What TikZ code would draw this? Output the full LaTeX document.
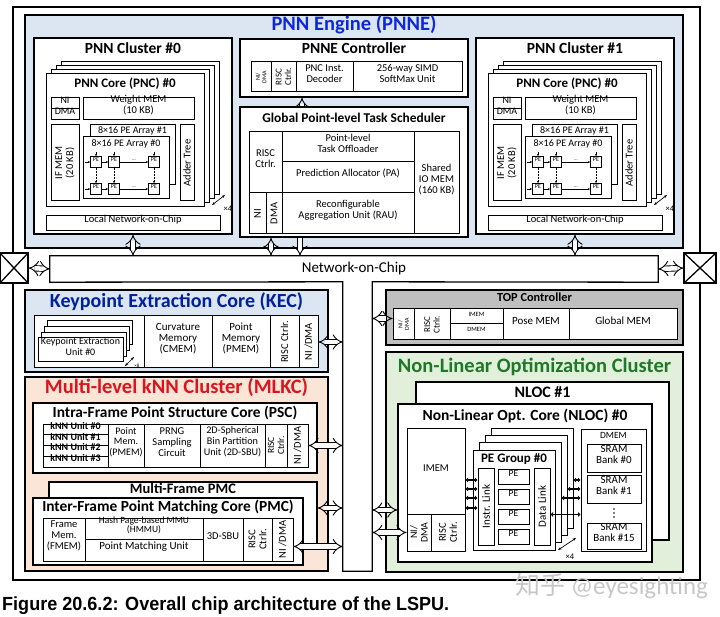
\documentclass[tikz,border=0pt]{standalone}
\usepackage{fontspec}
\setmainfont{Carlito}
\newfontfamily\capfont[FakeStretch=0.95]{Liberation Sans}
\newfontfamily\cjkfont{Noto Sans CJK SC}
\usepackage{tikz}
\usetikzlibrary{positioning,fit,arrows.meta,calc}

\definecolor{pnneblue}{RGB}{220,230,242}
\definecolor{titleblue}{RGB}{15,40,215}
\definecolor{kecblue}{RGB}{0,32,160}
\definecolor{mlkcpeach}{RGB}{251,229,214}
\definecolor{mlkcred}{RGB}{220,20,30}
\definecolor{nlogreen}{RGB}{226,239,218}
\definecolor{nlotitle}{RGB}{30,120,40}
\definecolor{topgray}{RGB}{191,191,191}

\newcommand{\fsz}[2]{\fontsize{#1}{#2}\selectfont}
% box from corner (#3,#4) to corner (#5,#6), pixel units, y downwards
\newcommand{\blk}[7][]{\node[blk,#1,fit={(#3,#4) (#5,#6)}] (#2) {#7};}

\tikzset{
  blk/.style={
      draw,
      fill=white,
      line width=1pt,
      inner sep=0pt,
      align=center,
      font=\fsz{10.5}{11},
  },
  frame/.style={line width=1.3pt},
  stackbox/.style={
      draw,
      fill=white,
      line width=1pt,
  },
  bigtitle/.style={font=\fsz{20.5}{22}\bfseries, inner sep=1pt},
  subtitle/.style={font=\fsz{15.5}{17}\bfseries, inner sep=1pt},
  coretitle/.style={font=\fsz{13}{14}\bfseries, inner sep=1pt},
  lbl/.style={font=\fsz{10.5}{11}, align=center, inner sep=0pt},
  smalllbl/.style={font=\fsz{9}{9.5}, align=center, inner sep=0pt},
  tinylbl/.style={font=\fsz{6}{6.5}, align=center, inner sep=0pt},
  dblarrow/.style={
      double,
      double distance=4.5pt,
      line width=0.9pt,
      {Implies}-{Implies},
  },
  onearrow/.style={
      double,
      double distance=4.5pt,
      line width=0.9pt,
      -{Implies},
  },
  bus/.style={
      line width=1.6pt,
      {Triangle[length=2.5pt,width=4.5pt]}-{Triangle[length=2.5pt,width=4.5pt]},
  },
  pearrow/.style={-{Stealth[length=2.2pt,width=2pt]}, line width=0.5pt},
  mult/.style={{Stealth[length=3.5pt]}-{Stealth[length=3.5pt]}, line width=0.7pt},
}

\begin{document}
\begin{tikzpicture}[x=1pt, y=-1pt]
  \useasboundingbox (0,0) rectangle (720,617);

  \blk[line width=1.5pt]{chip}{13}{7}{700}{580}{}

  % PNN engine
  \blk[fill=pnneblue, frame]{pnne}{25}{15}{683}{248}{}
  \node[bigtitle, text=titleblue, below=0pt of pnne.north] (pnnetitle) {PNN Engine (PNNE)};

  \foreach \cl/\dx in {0/0,1/442} {
    \begin{scope}[xshift=\dx pt]
      \blk[frame]{c\cl}{34}{38}{232}{234}{}
      \node[subtitle, below=4.4pt of c\cl.north] (c\cl title) {PNN Cluster \#\cl};
      \foreach \d in {3,2,1} {
        \draw[stackbox] (46+5.3*\d,74-4.3*\d) rectangle (204+5.3*\d,207-4.3*\d);
      }
      \blk{pnc\cl}{46}{74}{204}{207}{}
      \node[coretitle, below=3.4pt of pnc\cl.north] (pnc\cl title) {PNN Core (PNC) \#0};
      \blk[font=\fsz{10}{11}]{ni\cl}{51}{98}{79}{109}{NI}
      \blk[font=\fsz{10}{11}]{dma\cl}{51}{109}{79}{120}{DMA}
      \blk{wmem\cl}{83}{98}{194}{120}{Weight MEM\\(10 KB)}
      \blk{ifm\cl}{51}{125}{79}{201}{}
      \node[lbl, rotate=90] at (ifm\cl) {IF MEM\\(20 KB)};
      \blk{arrb\cl}{90}{125}{175}{185}{}
      \node[lbl, font=\fsz{10}{11}, below=1.5pt of arrb\cl.north] {8×16 PE Array \#1};
      \blk{arra\cl}{83}{137}{169}{199}{}
      \node[lbl, font=\fsz{10}{11}, below=3pt of arra\cl.north] {8×16 PE Array \#0};
      \blk{adt\cl}{180}{125}{194}{201}{}
      \node[lbl, rotate=90] at (adt\cl) {Adder Tree};
      \foreach \pn/\px in {a/96,b/114,c/154} {
        \foreach \pr/\py in {1/162,2/189} {
          \blk[font=\fsz{6}{6}, line width=0.8pt]{pe\cl\pn\pr}{\px-5.5}{\py-5.5}{\px+5.5}{\py+5.5}{PE}
        }
      }
      \foreach \pr in {1,2} {
        \draw[pearrow] ([xshift=-5pt]pe\cl a\pr.west) -- (pe\cl a\pr.west);
        \draw[pearrow] (pe\cl a\pr.east) -- (pe\cl b\pr.west);
        \draw[pearrow] (pe\cl b\pr.east) -- node[above=-2pt, font=\fsz{5}{5}] {...} (pe\cl c\pr.west);
      }
      \foreach \pn in {a,b,c} {
        \draw[pearrow] ([yshift=4pt]pe\cl\pn1.north) -- (pe\cl\pn1.north);
        \draw[pearrow, densely dotted] (pe\cl\pn1.south) -- (pe\cl\pn2.north);
      }
      \blk{lnoc\cl}{46}{216}{220}{231}{Local Network-on-Chip}
      \draw[mult] (212,205) -- (225,195);
      \node[font=\fsz{8.5}{9}, inner sep=0pt] at (228,209) {×4};
    \end{scope}
  }

  % PNNE controller and scheduler
  \blk[frame]{ctrl}{240}{39}{468}{97}{}
  \node[subtitle, below=3.4pt of ctrl.north] (ctrltitle) {PNNE Controller};
  \blk{ctrlni}{251}{62}{271}{92}{}
  \node[tinylbl, rotate=90] at (ctrlni) {NI/\\DMA};
  \blk{ctrlrisc}{271}{62}{296}{92}{}
  \node[smalllbl, rotate=90] at (ctrlrisc) {RISC\\Ctrlr.};
  \blk{ctrldec}{296}{62}{353}{92}{PNC Inst.\\Decoder}
  \blk{ctrlsimd}{353}{62}{462}{92}{256-way SIMD\\SoftMax Unit}

  \blk[frame]{sch}{240}{107}{468}{237}{}
  \node[subtitle, font=\fsz{13.4}{15}\bfseries, below=5.3pt of sch.north] (schtitle) {Global Point-level Task Scheduler};
  \blk{schrisc}{249}{132}{282}{193}{RISC\\Ctrlr.}
  \blk{schni}{249}{193}{266}{234}{}
  \node[lbl, rotate=90] at (schni) {NI};
  \blk{schdma}{266}{193}{282}{234}{}
  \node[lbl, rotate=90] at (schdma) {DMA};
  \blk{schofl}{282}{132}{414}{162}{Point-level\\Task Offloader}
  \blk{schpa}{282}{162}{414}{193}{Prediction Allocator (PA)}
  \blk{schrau}{282}{193}{414}{234}{Reconfigurable\\Aggregation Unit (RAU)}
  \blk{schio}{414}{132}{459}{234}{Shared\\IO MEM\\(160 KB)}
  \draw[onearrow] ([xshift=-52pt]sch.north) -- ([xshift=-52pt]sch.north |- ctrl.south);

  % network-on-chip with its stem
  \node[fit={(50,256) (658,282)}, inner sep=0pt] (noc) {};
  \node[fit={(343,282) (372,571)}, inner sep=0pt] (stem) {};
  \draw[frame] (noc.south west) -- (noc.north west) -- (noc.north east) -- (noc.south east)
    -- (stem.north east) -- (stem.south east) -- (stem.south west) -- (stem.north west) -- cycle;
  \node[font=\fsz{15}{16}] (noctext) at (noc) {Network-on-Chip};

  \blk[frame]{padl}{0}{253}{28}{283}{}
  \blk[frame]{padr}{684}{253}{716}{283}{}
  \draw[frame] (padl.north west) -- (padl.south east) (padl.north east) -- (padl.south west);
  \draw[frame] (padr.north west) -- (padr.south east) (padr.north east) -- (padr.south west);
  \draw[dblarrow] (padl.east) -- (noc.west);
  \draw[dblarrow] (noc.east) -- (padr.west);

  \draw[dblarrow] (c0.south) -- (c0.south |- noc.north);
  \draw[dblarrow] (c1.south) -- (c1.south |- noc.north);
  \draw[dblarrow] ([xshift=-83pt]sch.south) -- ([xshift=-83pt]sch.south |- noc.north);
  \draw[onearrow] ([xshift=-54pt]sch.south) -- ([xshift=-54pt]sch.south |- noc.north);

  % keypoint extraction core
  \blk[fill=pnneblue, frame]{kec}{25}{290}{328}{372}{}
  \node[bigtitle, font=\fsz{20}{22}\bfseries, text=kecblue, below=2.4pt of kec.north] (kectitle) {Keypoint Extraction Core (KEC)};
  \blk{kecunits}{34}{316}{144}{368}{}
  \foreach \d in {3,2,1} {
    \draw[stackbox] (38+3*\d,338-5.7*\d) rectangle (123+3*\d,362-5.7*\d);
  }
  \blk[font=\fsz{10}{10.5}]{keu}{38}{338}{123}{362}{Keypoint Extraction\\Unit \#0}
  \draw[mult, line width=0.5pt] (125,366) -- (134,357);
  \node[font=\fsz{5}{5}, inner sep=0pt] at (137,366) {×8};
  \blk[font=\fsz{11}{11}]{kecc}{144}{316}{212}{368}{Curvature\\Memory\\(CMEM)}
  \blk[font=\fsz{11}{11}]{kecp}{212}{316}{270}{368}{Point\\Memory\\(PMEM)}
  \blk{kecrisc}{270}{316}{299}{368}{}
  \node[lbl, rotate=90] at (kecrisc) {RISC Ctrlr.};
  \blk{kecni}{299}{316}{318}{368}{}
  \node[lbl, rotate=90] at (kecni) {NI /DMA};
  \draw[dblarrow] (kecni.east) -- (kecni.east -| stem.west);

  % multi-level kNN cluster
  \blk[fill=mlkcpeach, frame]{mlkc}{25}{377}{328}{571}{}
  \node[bigtitle, text=mlkcred, below=1.2pt of mlkc.north] (mlkctitle) {Multi-level kNN Cluster (MLKC)};
  \blk[frame]{psc}{33}{403}{317}{473}{}
  \node[subtitle, font=\fsz{15.4}{17}\bfseries, below=2.4pt of psc.north] (psctitle) {Intra-Frame Point Structure Core (PSC)};
  \foreach \k in {0,...,3} {
    \blk[font=\fsz{10}{10}\bfseries, text height=6.5pt, text depth=1.5pt]{knn\k}{43}{424+10.75*\k}{108}{434.75+10.75*\k}{kNN Unit \#\k}
  }
  \blk[font=\fsz{10}{10.5}]{pscpm}{108}{424}{144}{467}{Point\\Mem.\\(PMEM)}
  \blk{pscprng}{144}{424}{200}{467}{PRNG\\Sampling\\Circuit}
  \blk[font=\fsz{10.2}{11}]{pscsbu}{200}{424}{265}{467}{2D-Spherical\\Bin Partition\\Unit (2D-SBU)}
  \blk{pscrisc}{265}{424}{287}{467}{}
  \node[smalllbl, font=\fsz{9.5}{10}, rotate=90] at (pscrisc) {RISC\\Ctrlr.};
  \blk{pscni}{287}{424}{308}{467}{}
  \node[lbl, rotate=90] at (pscni) {NI /DMA};
  \draw[dblarrow] (pscni.east) -- (pscni.east -| stem.west);

  \blk[frame]{mfpmc}{49}{482}{317}{548}{}
  \node[subtitle, font=\fsz{14.5}{16}\bfseries, below=0.8pt of mfpmc.north] (mfpmctitle) {Multi-Frame PMC};
  \blk[frame]{pmc}{33}{498}{303}{565}{}
  \node[subtitle, font=\fsz{15.4}{17}\bfseries, below=1.4pt of pmc.north] (pmctitle) {Inter-Frame Point Matching Core (PMC)};
  \blk{pmcfm}{43}{518}{85}{561}{Frame\\Mem.\\(FMEM)}
  \blk[font=\fsz{9.5}{9}]{pmchm}{85}{518}{203}{539}{Hash Page-based MMU\\(HMMU)}
  \blk[font=\fsz{11}{12}]{pmcpmu}{85}{539}{203}{561}{Point Matching Unit}
  \blk{pmcsbu}{203}{518}{243}{561}{3D-SBU}
  \blk{pmcrisc}{243}{518}{272}{561}{}
  \node[lbl, rotate=90] at (pmcrisc) {RISC\\Ctrlr.};
  \blk{pmcni}{272}{518}{293}{561}{}
  \node[lbl, rotate=90] at (pmcni) {NI /DMA};
  \draw[dblarrow] ([yshift=7pt]mfpmc.east) -- ([yshift=7pt]mfpmc.east -| stem.west);
  \draw[dblarrow] ([yshift=-7pt]pmcni.east) -- ([yshift=-7pt]pmcni.east -| stem.west);

  % top controller
  \blk[fill=topgray, frame]{top}{386}{290}{683}{345}{}
  \node[font=\fsz{12.3}{13}\bfseries, inner sep=1pt, below=2.7pt of top.north] (toptitle) {TOP Controller};
  \blk{topni}{393}{309}{414}{340}{}
  \node[tinylbl, rotate=90] at (topni) {NI/\\DMA};
  \blk{toprisc}{414}{309}{450}{340}{}
  \node[smalllbl, rotate=90] at (toprisc) {RISC\\Ctrlr.};
  \blk[font=\fsz{6.5}{7}]{topim}{450}{309}{503}{324}{IMEM}
  \blk[font=\fsz{6.5}{7}]{topdm}{450}{324}{503}{340}{DMEM}
  \blk[font=\fsz{11}{12}]{toppose}{503}{309}{569}{340}{Pose MEM}
  \blk[font=\fsz{11}{12}]{topglob}{569}{309}{677}{340}{Global MEM}
  \draw[dblarrow] ([yshift=6pt]topni.west -| stem.east) -- ([yshift=6pt]topni.west);

  % non-linear optimization cluster
  \blk[fill=nlogreen, frame]{nlo}{386}{352}{683}{572}{}
  \node[bigtitle, text=nlotitle, below=5.2pt of nlo.north] (nlotitle) {Non-Linear Optimization Cluster};
  \blk[frame]{nloc1}{416}{382}{669}{540}{}
  \node[subtitle, font=\fsz{16}{17}\bfseries, below=4.2pt of nloc1.north] (nloc1title) {NLOC \#1};
  \blk[frame]{nloc0}{398}{404}{652}{562}{}
  \node[subtitle, below=4.3pt of nloc0.north] (nloc0title) {Non-Linear Opt. Core (NLOC) \#0};
  \blk{imem}{407}{428}{465}{514}{IMEM}
  \blk{nlocni}{407}{514}{431}{551}{}
  \node[lbl, font=\fsz{10}{10.5}, rotate=90] at (nlocni) {NI/\\DMA};
  \blk{nlocrisc}{431}{514}{465}{551}{}
  \node[lbl, rotate=90] at (nlocrisc) {RISC\\Ctrlr.};
  \foreach \d in {3,2,1} {
    \draw[stackbox] (473+6*\d,450-7.3*\d) rectangle (555+6*\d,550-7.3*\d);
  }
  \blk{peg}{473}{450}{555}{550}{}
  \node[coretitle, below=2.5pt of peg.north] (pegtitle) {PE Group \#0};
  \blk{instr}{478}{468}{494}{545}{}
  \node[lbl, font=\fsz{11}{11}, rotate=90] at (instr) {Instr. Link};
  \foreach \r in {0,...,3} {
    \blk[font=\fsz{9.5}{10}]{nlpe\r}{498}{469+20*\r}{529}{484+20*\r}{PE}
  }
  \blk{dlink}{534}{468}{550}{545}{}
  \node[lbl, font=\fsz{11}{11}, rotate=90] at (dlink) {Data Link};
  \blk{dmem}{581}{429}{646}{551}{}
  \node[font=\fsz{9.5}{10}, inner sep=1pt, below=3pt of dmem.north] (dmemtitle) {DMEM};
  \blk[font=\fsz{11}{11.5}]{bank0}{587}{444}{641}{472}{SRAM\\Bank \#0}
  \blk[font=\fsz{11}{11.5}]{bank1}{587}{475}{641}{503}{SRAM\\Bank \#1}
  \blk[font=\fsz{11}{11.5}]{bank15}{587}{523}{641}{549}{SRAM\\Bank \#15}
  \coordinate (bankdots) at ($(bank1.south)!0.5!(bank15.north)$);
  \foreach \yy in {-4,0,4} {
    \fill ([yshift=\yy pt]bankdots) circle (0.8pt);
  }
  \foreach \off in {9,18,27,37} {
    \draw[bus] ([yshift=-\off pt]imem.east) -- ([yshift=-\off pt]imem.east -| instr.west);
  }
  \foreach \off/\lay in {20/18,11/12,2/6} {
    \draw[bus] ([xshift=\lay pt, yshift=\off pt]peg.east) -- ([yshift=\off pt]peg.east -| dmem.west);
  }
  \draw[bus] ([yshift=-8pt]dlink.east) -- ([yshift=-8pt]dlink.east -| dmem.west);
  \draw[mult] (558,550) -- (576,538);
  \node[font=\fsz{8.5}{9}, inner sep=0pt] at (570,557) {×4};
  \draw[dblarrow] ([yshift=-27pt]nloc0.west -| stem.east) -- ([yshift=-27pt]nloc0.west);
  \draw[dblarrow] (nlocni.west -| stem.east) -- (nlocni.west);

  % caption and mark
  \node[text=black!22, font=\fsz{25}{26}, anchor=base west, inner sep=0pt] (mark) at (515,594) {{\cjkfont 知乎} @eyesighting};
  \node[font=\capfont\fsz{19}{21}\bfseries, anchor=base west, inner sep=0pt] (caption) at (2,610) {Figure 20.6.2: Overall chip architecture of the LSPU.};
\end{tikzpicture}
\end{document}
